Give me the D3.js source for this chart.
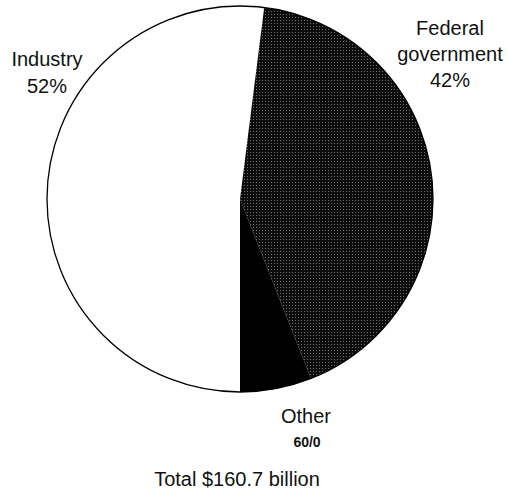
<!DOCTYPE html>
<html>
<head>
<meta charset="utf-8">
<script src="https://cdn.jsdelivr.net/npm/d3@7"></script>
<style>
  body { margin: 0; background: white; }
  text { font-family: "Liberation Sans", Arial, sans-serif; fill: #111; }
</style>
</head>
<body>
<div id="chart"></div>
<script>

// funding sources, in pie order (clockwise from the bottom)
var sources = ['Industry', 'Federal government', 'Other'];
var shares = [52, 42, 6];
var shareLabels = ['52%', '42%', '60/0'];
var totalLabel = 'Total $160.7 billion';

var width = 510, height = 489;
var cx = 240, cy = 199, radius = 193;

var svg = d3.select('#chart').append('svg')
    .attr('width', width)
    .attr('height', height)
    .style('background', 'white');

// stipple for the federal slice
var defs = svg.append('defs');
var pat = defs.append('pattern')
    .attr('id', 'stipple')
    .attr('patternUnits', 'userSpaceOnUse')
    .attr('width', 3)
    .attr('height', 3);
pat.append('rect').attr('width', 3).attr('height', 3).attr('fill', '#0c0c0c');
pat.append('rect').attr('x', 1).attr('y', 1).attr('width', 1).attr('height', 1).attr('fill', '#707070');

var fills = d3.scaleOrdinal()
    .domain(sources)
    .range(['#ffffff', 'url(#stipple)', '#000000']);

var pie = d3.pie()
    .sort(null)
    .value(function (d) { return d; })
    .startAngle(Math.PI)
    .endAngle(Math.PI * 3);

var arc = d3.arc().innerRadius(0).outerRadius(radius);

var g = svg.append('g').attr('transform', 'translate(' + cx + ',' + cy + ')');

g.selectAll('path')
    .data(pie(shares))
    .enter().append('path')
    .attr('d', arc)
    .attr('fill', function (d, i) { return fills(sources[i]); })
    .attr('stroke', 'none');

// outline
g.append('circle')
    .attr('r', radius)
    .attr('fill', 'none')
    .attr('stroke', '#000')
    .attr('stroke-width', 1.3);

// labels (placed by hand like the original)
var labelSpots = [
    {lines: ['Industry'], x: 47, y: 66},
    {lines: ['Federal', 'government'], x: 450, y: 35},
    {lines: ['Other'], x: 306, y: 423}
];

labelSpots.forEach(function (s, i) {
    var t = svg.append('text')
        .attr('text-anchor', 'middle')
        .style('font-size', '20px');
    s.lines.forEach(function (ln, j) {
        t.append('tspan').attr('x', s.x).attr('y', s.y + j * 26).text(ln);
    });
    var pctY = s.y + s.lines.length * 26 + (i === 0 ? 1 : 0);
    if (i === 2) {
        svg.append('text')
            .attr('x', s.x + 1).attr('y', 447)
            .attr('text-anchor', 'middle')
            .style('font-size', '14px')
            .style('font-weight', 'bold')
            .text(shareLabels[i]);
    } else {
        svg.append('text')
            .attr('x', s.x).attr('y', pctY)
            .attr('text-anchor', 'middle')
            .style('font-size', '20px')
            .text(shareLabels[i]);
    }
});

svg.append('text')
    .attr('x', 237).attr('y', 486)
    .attr('text-anchor', 'middle')
    .style('font-size', '20px')
    .text(totalLabel);

</script>
</body>
</html>
